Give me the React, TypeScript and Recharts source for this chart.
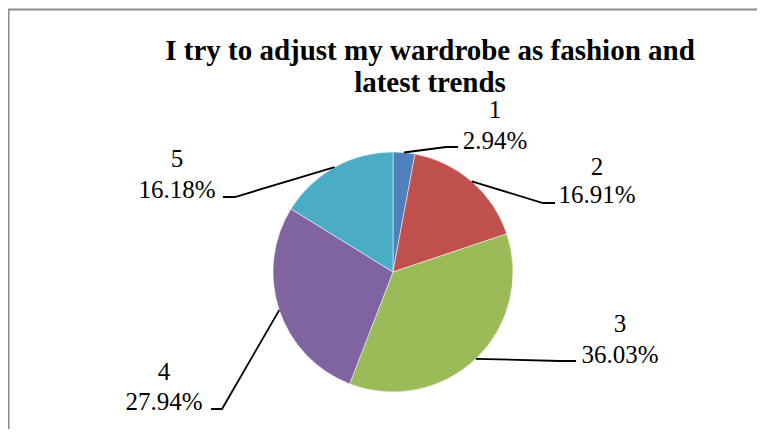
import React from "react";
import { PieChart, Pie, Cell, Customized } from "recharts";

const categories = ["1", "2", "3", "4", "5"];
const percentages = [2.94, 16.91, 36.03, 27.94, 16.18];
const sliceColors = ["#4F81BD", "#C0504D", "#9BBB59", "#8064A2", "#4BACC6"];
const titleLines = ["I try to adjust my wardrobe as fashion and", "latest trends"];

const data = categories.map((name, i) => ({ name, value: percentages[i] }));

// label layout relative to pie centre: elbow point, end of horizontal tick, text centre x, baselines
const labelLayout = [
  { ex: 53, ey: -125, tx: 65, cxT: 102, b1: -154, b2: -123 },
  { ex: 150, ey: -69, tx: 162, cxT: 204, b1: -97, b2: -69 },
  { ex: 167, ey: 89, tx: 183, cxT: 227, b1: 60, b2: 91 },
  { ex: -171, ey: 137, tx: -182, cxT: -229, b1: 108, b2: 138 },
  { ex: -158, ey: -75, tx: -170, cxT: -216, b1: -105, b2: -74 },
];

const FONT = "Liberation Serif";
const RAD = Math.PI / 180;

const renderLabel = (props: any) => {
  const { cx, cy, midAngle, outerRadius, index, name, value } = props;
  const L = labelLayout[index];
  const sx = cx + outerRadius * Math.cos(-midAngle * RAD);
  const sy = cy + outerRadius * Math.sin(-midAngle * RAD);
  const pts = `${sx},${sy} ${cx + L.ex},${cy + L.ey} ${cx + L.tx},${cy + L.ey}`;
  return (
    <g key={`lbl-${index}`}>
      <polyline points={pts} fill="none" stroke="#000" strokeWidth={1.8} />
      <text x={cx + L.cxT} y={cy + L.b1} textAnchor="middle" fontFamily={FONT} fontSize={25} fill="#000">
        {name}
      </text>
      <text x={cx + L.cxT} y={cy + L.b2} textAnchor="middle" fontFamily={FONT} fontSize={25} fill="#000">
        {`${value.toFixed(2)}%`}
      </text>
    </g>
  );
};

const Decor = () => (
  <g>
    <polyline points="8.5,437 8.5,9.5 765,9.5" fill="none" stroke="#8a8a8a" strokeWidth={2} />
    <text x={430} y={60} textAnchor="middle" fontFamily={FONT} fontWeight="bold" fontSize={29} fill="#000">
      {titleLines[0]}
    </text>
    <text x={430} y={92} textAnchor="middle" fontFamily={FONT} fontWeight="bold" fontSize={29} fill="#000">
      {titleLines[1]}
    </text>
  </g>
);

export default function App() {
  return (
    <div style={{ width: 765, height: 437, margin: -8, background: "#fff" }}>
      <PieChart width={765} height={437} margin={{ top: 0, right: 0, bottom: 0, left: 0 }}>
        <Customized component={Decor} />
        <Pie
          data={data}
          dataKey="value"
          nameKey="name"
          cx={393}
          cy={272}
          outerRadius={120}
          startAngle={90}
          endAngle={-270}
          stroke="#ffffff"
          strokeWidth={0.5}
          isAnimationActive={false}
          label={renderLabel}
          labelLine={false}
        >
          {data.map((d, i) => (
            <Cell key={d.name} fill={sliceColors[i]} />
          ))}
        </Pie>
      </PieChart>
    </div>
  );
}
